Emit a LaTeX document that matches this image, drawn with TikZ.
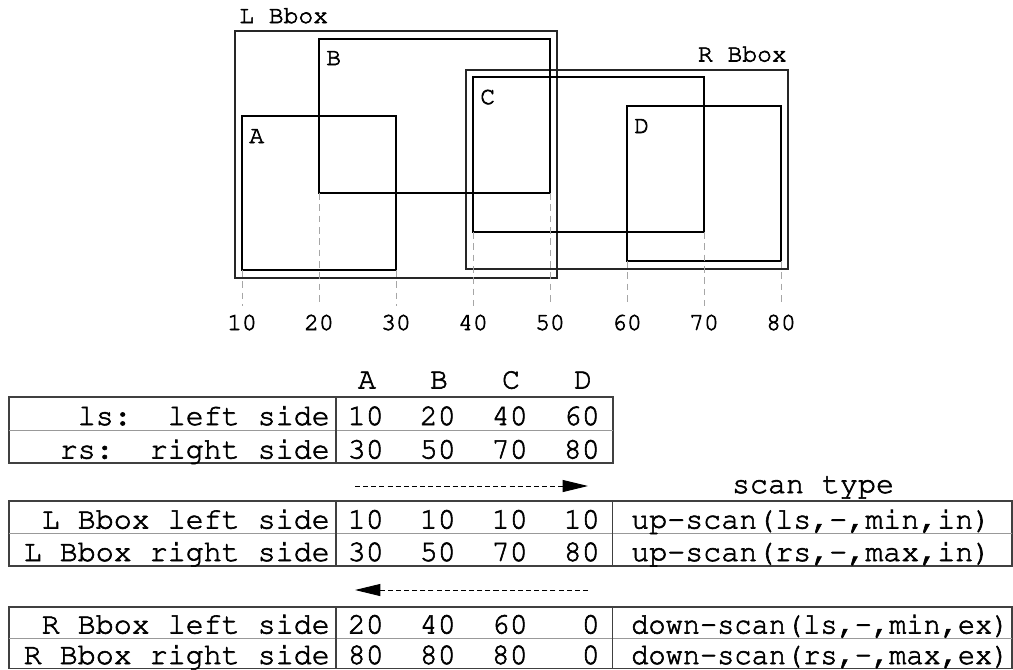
\documentclass[tikz,border=0pt]{standalone}
\usepackage[T1]{fontenc}
\usetikzlibrary{arrows.meta}
% Courier with a slightly heavier stroke
\newcommand\heavy[1]{\special{pdf:literal direct 2 Tr 0.45 w}#1\special{pdf:literal direct 0 Tr}}
\newcommand\smallcour{\usefont{T1}{pcr}{m}{n}\fontsize{18.5}{21}\selectfont}
\newcommand\bigcour{\usefont{T1}{pcr}{m}{n}\fontsize{22.5}{26}\selectfont}
\tikzset{
  rectbox/.style={draw=black, line width=1.8pt},
  bboxrect/.style={draw=black!85, line width=0.85pt},
  guide/.style={draw=black!35, line width=0.5pt, dash pattern=on 5pt off 3.5pt},
  boxlabel/.style={anchor=base west, inner sep=0pt, font=\smallcour},
  ticklabel/.style={anchor=base, inner sep=0pt, font=\smallcour},
  rowlabel/.style={anchor=base east, inner sep=0pt, font=\bigcour},
  cellval/.style={anchor=base east, inner sep=0pt, font=\bigcour},
  colhead/.style={anchor=base, inner sep=0pt, font=\bigcour},
  scantext/.style={anchor=base west, inner sep=0pt, font=\bigcour},
  frame/.style={draw=black!75, line width=0.9pt},
  rowsep/.style={draw=black!40, line width=0.5pt},
  scanarrow/.style={line width=0.7pt, dash pattern=on 3.8pt off 2.3pt,
    -{Triangle[length=19pt, width=9pt]}},
}
\begin{document}
\begin{tikzpicture}[x=0.75pt, y=-0.75pt]
\useasboundingbox (0,0) rectangle (1013,669);

% ---- bounding boxes of the left and right groups
\draw[bboxrect] (235,31) rectangle (557,278);
\node[anchor=base west, inner sep=0pt, font=\smallcour] (lbb) at (239,23) {\heavy{L Bbox}};
\draw[bboxrect] (466,70) rectangle (788,269);
\node[anchor=base east, inner sep=0pt, font=\smallcour] (rbb) at (787,61.5) {\heavy{R Bbox}};

% ---- the four rectangles
\draw[rectbox] (242,116) rectangle (396,270);
\draw[rectbox] (319,39) rectangle (550,193);
\draw[rectbox] (473,77) rectangle (704,232);
\draw[rectbox] (627,106) rectangle (781,261);
\node[boxlabel] (la) at (249,143) {\heavy{A}};
\node[boxlabel] (lb) at (326,65) {\heavy{B}};
\node[boxlabel] (lc) at (480,104) {\heavy{C}};
\node[boxlabel] (ld) at (634,133) {\heavy{D}};

% ---- guides down to the axis values
\foreach \gx/\gy in {242/270, 319/193, 396/270, 473/232, 550/193, 627/261, 704/232, 781/261}
  \draw[guide] (\gx,\gy) -- (\gx,306);
\foreach \gx/\v in {242/10, 319/20, 396/30, 473/40, 550/50, 627/60, 704/70, 781/80}
  \node[ticklabel] (t\v) at (\gx,330) {\heavy{\v}};

% ---- table of box sides
\foreach \cx/\h in {367/A, 439/B, 511/C, 583/D}
  \node[colhead] (h\h) at (\cx,388.5) {\heavy{\h}};
\draw[frame] (9,397) rectangle (613,463);
\draw[rowsep] (9,430.5) -- (613,430.5);
\draw[frame] (336,397) -- (336,463);
\node[rowlabel] (ls) at (330,425) {\heavy{ls:\ \ left side}};
\node[rowlabel] (rs) at (330,458.5) {\heavy{rs: right side}};
\foreach \cx/\v [count=\i] in {384/10, 456/20, 528/40, 600/60}
  \node[cellval] (ls\i) at (\cx,425) {\heavy{\v}};
\foreach \cx/\v [count=\i] in {384/30, 456/50, 528/70, 600/80}
  \node[cellval] (rs\i) at (\cx,458.5) {\heavy{\v}};

% ---- up-scan table
\coordinate (ua) at (355,486);
\coordinate (ub) at (588,486);
\draw[scanarrow] (ua) -- (ub);
\node[colhead] (st) at (813,493) {\heavy{scan type}};
\draw[frame] (9,501) rectangle (1012,566);
\draw[rowsep] (9,533.5) -- (1012,533.5);
\draw[frame] (336,501) -- (336,566);
\draw[frame] (612.5,501) -- (612.5,566);
\node[rowlabel] (lbl) at (330,528.5) {\heavy{L Bbox left side}};
\node[rowlabel] (lbr) at (330,561) {\heavy{L Bbox right side}};
\foreach \cx/\v [count=\i] in {384/10, 456/10, 528/10, 600/10}
  \node[cellval] (lbl\i) at (\cx,528.5) {\heavy{\v}};
\foreach \cx/\v [count=\i] in {384/30, 456/50, 528/70, 600/80}
  \node[cellval] (lbr\i) at (\cx,561) {\heavy{\v}};
\node[scantext] (sl1) at (631,528.5) {\heavy{up-scan(ls,-,min,in)}};
\node[scantext] (sl2) at (631,561) {\heavy{up-scan(rs,-,max,in)}};

% ---- down-scan table
\coordinate (da) at (588,590);
\coordinate (db) at (355,590);
\draw[scanarrow] (da) -- (db);
\draw[frame] (9,607) rectangle (1012,668.5);
\draw[rowsep] (9,638) -- (1012,638);
\draw[frame] (336,607) -- (336,668.5);
\draw[frame] (612.5,607) -- (612.5,668.5);
\node[rowlabel] (rbl) at (330,633.5) {\heavy{R Bbox left side}};
\node[rowlabel] (rbr) at (330,664) {\heavy{R Bbox right side}};
\foreach \cx/\v [count=\i] in {384/20, 456/40, 528/60, 600/0}
  \node[cellval] (rbl\i) at (\cx,633.5) {\heavy{\v}};
\foreach \cx/\v [count=\i] in {384/80, 456/80, 528/80, 600/0}
  \node[cellval] (rbr\i) at (\cx,664) {\heavy{\v}};
\node[scantext] (sr1) at (631,633.5) {\scalebox{0.955}[1]{\heavy{down-scan(ls,-,min,ex)}}};
\node[scantext] (sr2) at (631,664) {\scalebox{0.955}[1]{\heavy{down-scan(rs,-,max,ex)}}};
\end{tikzpicture}
\end{document}
